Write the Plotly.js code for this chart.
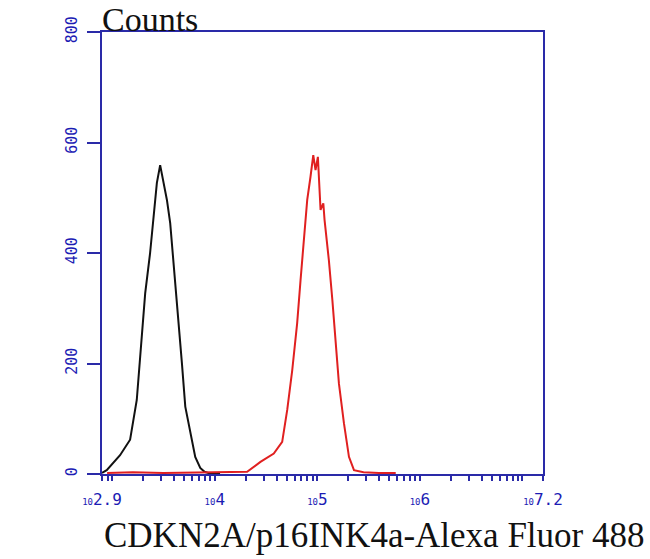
<!DOCTYPE html>
<html>
<head>
<meta charset="utf-8">
<script src="https://cdn.plot.ly/plotly-3.0.1.min.js"></script>
<style>html,body{margin:0;padding:0;background:#fff;}#chart{width:650px;height:559px;}</style>
</head>
<body>
<div id="chart"></div>
<script>
// Fluorescence intensity expressed as log10 exponents; counts per channel
var controlLogIntensity = [2.90, 2.946, 3.076, 3.174, 3.239, 3.288, 3.321, 3.369, 3.402, 3.435, 3.467, 3.499, 3.533, 3.565, 3.597, 3.646, 3.679, 3.712, 3.760, 3.809, 3.858, 3.90, 3.95, 4.00, 4.05];
var controlCounts       = [2,    7,     34,    62,    134,   248,   327,   400,   466,   527,   559,   526,   496,   454,   387,   273,   201,   122,   74,    31,    11,    4,    1,    2,    0];

var sampleLogIntensity = [2.95, 3.20, 3.50, 3.80, 4.00, 4.20, 4.315, 4.445, 4.575, 4.657, 4.706, 4.755, 4.803, 4.836, 4.868, 4.901, 4.933, 4.960, 4.982, 5.005, 5.031, 5.058, 5.070, 5.112, 5.146, 5.179, 5.210, 5.259, 5.308, 5.357, 5.45, 5.60, 5.764];
var sampleCounts       = [2,    3,    2,    3,    4,    4,    4,     22,    37,    58,    116,   188,   273,   351,   430,   496,   538,   577,   550,   574,   478,   490,   460,   387,   315,   237,   164,   92,    31,    7,     3,    2,    2];

var xLabelExponents = [2.9, 4, 5, 6, 7.2];
var xLabelTexts = ['2.9', '4', '5', '6', '7.2'];
var yTickValues = [0, 200, 400, 600, 800];
var xAxisTitle = 'CDKN2A/p16INK4a-Alexa Fluor 488';
var yAxisTitle = 'Counts';

function toLinear(arr){ return arr.map(function(v){ return Math.pow(10, v); }); }

// tick marks: labelled positions plus 2..9 multiples of each decade within range
var tickVals = [], tickText = [];
xLabelExponents.forEach(function(e, i){
  tickVals.push(Math.pow(10, e));
  tickText.push('<span style="font-size:9px">10</span>' + xLabelTexts[i]);
});
for (var d = 2; d <= 7; d++) {
  for (var k = 1; k <= 9; k++) {
    var v = k * Math.pow(10, d);
    var lv = Math.log10(v);
    if (lv > 2.9 && lv < 7.2 && !(k === 1 && d >= 4 && d <= 6)) { tickVals.push(v); tickText.push(''); }
  }
}

var axisBlue = '#2a2aa8';
var labelBlue = '#1c1cb4';
var monoFont = 'DejaVu Sans Mono, Liberation Mono, monospace';
var serifFont = 'Liberation Serif, Times New Roman, serif';

var traces = [
  { x: toLinear(controlLogIntensity), y: controlCounts, type: 'scatter', mode: 'lines',
    line: { color: '#111111', width: 2 }, showlegend: false, hoverinfo: 'skip' },
  { x: toLinear(sampleLogIntensity), y: sampleCounts, type: 'scatter', mode: 'lines',
    line: { color: '#e02020', width: 2 }, showlegend: false, hoverinfo: 'skip' }
];

var layout = {
  width: 650, height: 559,
  margin: { l: 102, r: 107, t: 32, b: 85, pad: 0 },
  paper_bgcolor: '#ffffff', plot_bgcolor: '#ffffff',
  showlegend: false,
  xaxis: {
    type: 'log', range: [2.9, 7.2],
    showline: true, mirror: true, linecolor: axisBlue, linewidth: 2,
    ticks: 'outside', ticklen: 5, tickwidth: 2, tickcolor: axisBlue,
    tickmode: 'array', tickvals: tickVals, ticktext: tickText,
    ticklabelstandoff: 5,
    tickfont: { family: monoFont, size: 16, color: labelBlue },
    showgrid: false, zeroline: false
  },
  yaxis: {
    range: [0, 800],
    showline: true, mirror: true, linecolor: axisBlue, linewidth: 2,
    ticks: 'outside', ticklen: 13, tickwidth: 2, tickcolor: axisBlue,
    tickmode: 'array', tickvals: yTickValues, ticktext: yTickValues.map(String),
    tickangle: -90, ticklabelstandoff: 4,
    tickfont: { family: monoFont, size: 15, color: labelBlue },
    showgrid: false, zeroline: false
  },
  annotations: [
    { text: yAxisTitle, xref: 'paper', yref: 'paper', x: -0.003, y: 1.0724,
      xanchor: 'left', yanchor: 'top', showarrow: false, borderpad: 0,
      font: { family: serifFont, size: 34, color: '#111111' } },
    { text: xAxisTitle, xref: 'paper', yref: 'paper', x: 0.0, y: -0.14,
      xanchor: 'left', yanchor: 'middle', showarrow: false,
      font: { family: serifFont, size: 35, color: '#111111' } }
  ]
};

Plotly.newPlot('chart', traces, layout, { displayModeBar: false, staticPlot: true });
</script>
</body>
</html>
